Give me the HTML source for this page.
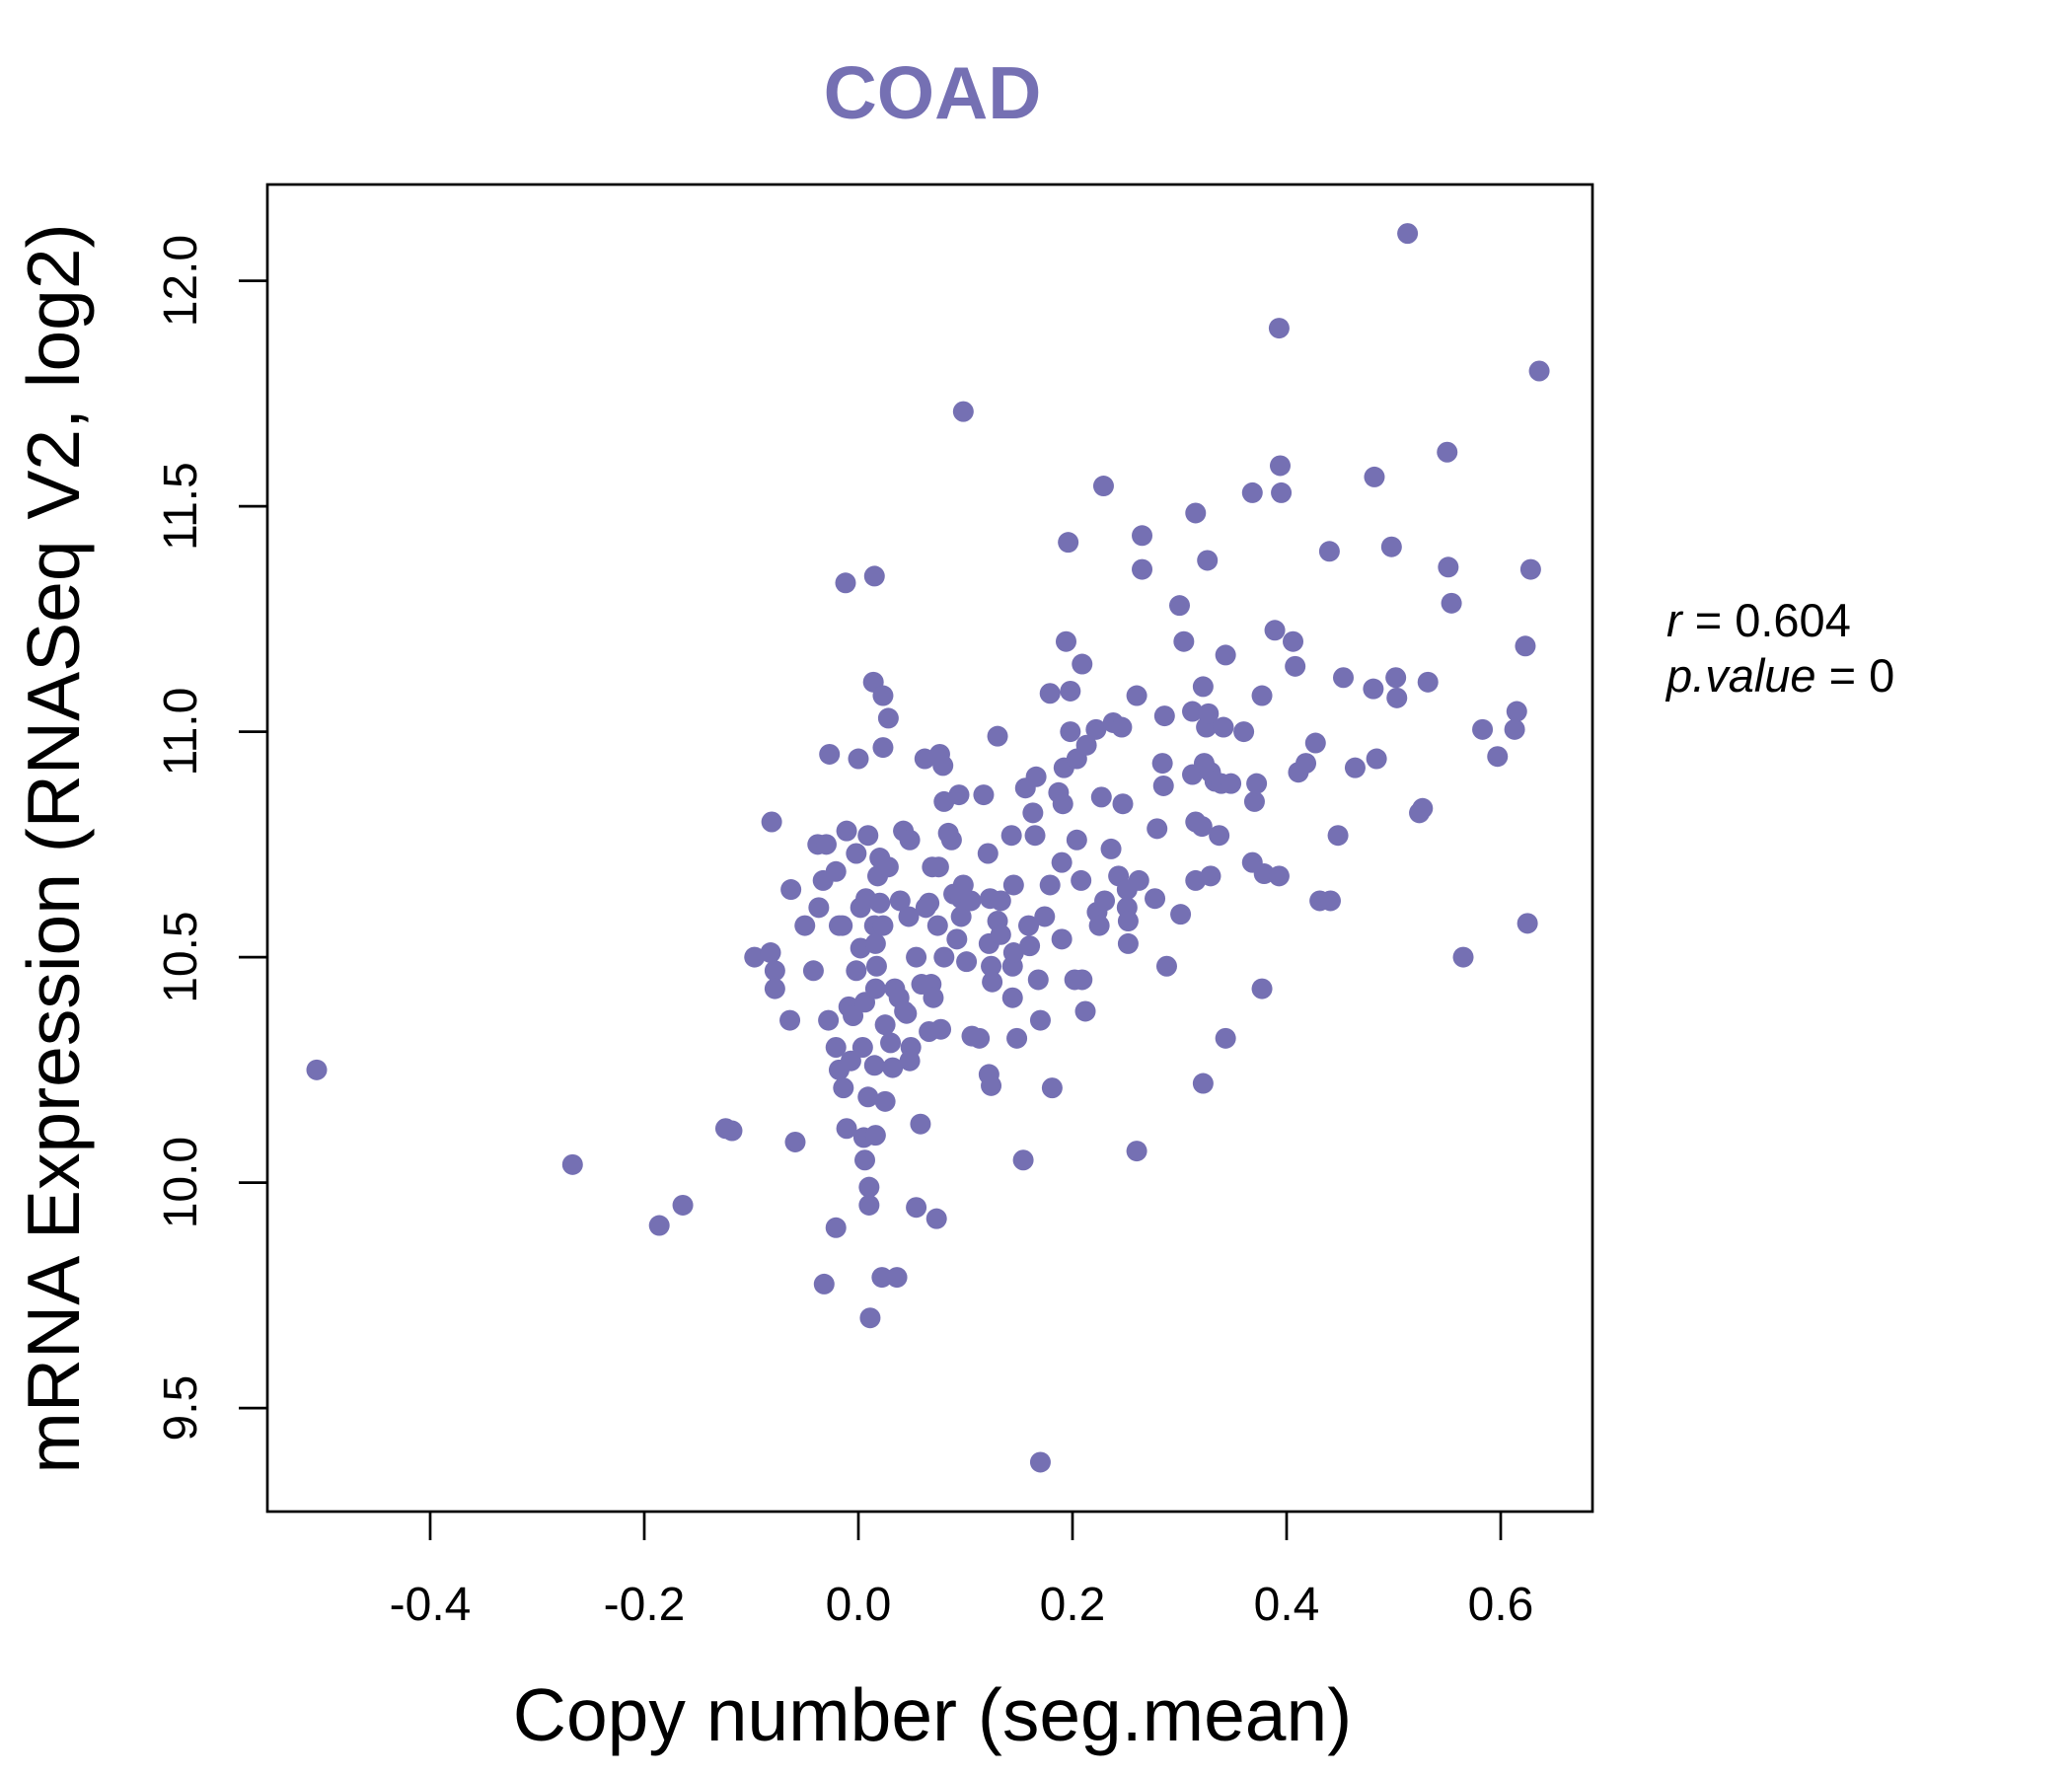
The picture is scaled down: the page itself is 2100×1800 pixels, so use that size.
<!DOCTYPE html>
<html><head><meta charset="utf-8"><style>body{margin:0;background:#fff}svg{display:block}text{font-family:"Liberation Sans",sans-serif}</style></head>
<body>
<svg id="chart" width="2100" height="1800" xmlns="http://www.w3.org/2000/svg">
<text x="945" y="120" text-anchor="middle" font-size="75" font-weight="bold" fill="#7570b3">COAD</text>
<rect x="271" y="187" width="1343" height="1345" fill="none" stroke="#000" stroke-width="2.7"/>
<g id="xaxis"></g>
<g id="yaxis"></g>
<g id="pts"></g>
<text x="945" y="1764" text-anchor="middle" font-size="75">Copy number (seg.mean)</text>
<text transform="translate(80,860) rotate(-90)" text-anchor="middle" font-size="75">mRNA Expression (RNASeq V2, log2)</text>
<text x="1689" y="645" font-size="47"><tspan font-style="italic">r</tspan> = 0.604</text>
<text x="1689" y="701" font-size="47"><tspan font-style="italic">p.value</tspan> = 0</text>
</svg>
<script>
const xTicks=[-0.4,-0.2,0.0,0.2,0.4,0.6];
const xTickLabels=["-0.4","-0.2","0.0","0.2","0.4","0.6"];
const yTicks=[9.5,10.0,10.5,11.0,11.5,12.0];
const yTickLabels=["9.5","10.0","10.5","11.0","11.5","12.0"];
const xVals=[-0.506,-0.267,-0.186,-0.164,-0.124,-0.118,-0.097,-0.081,-0.082,-0.078,-0.078,-0.064,-0.063,-0.059,-0.05,-0.042,-0.038,-0.03,-0.037,-0.033,-0.027,-0.028,-0.032,-0.021,-0.021,-0.018,-0.018,-0.015,-0.021,-0.012,-0.011,-0.014,-0.011,-0.009,-0.005,-0.007,-0.002,-0.002,0,0.002,0.007,0.002,0.004,0.006,0.005,0.006,0.009,0.009,0.01,0.01,0.011,0.014,0.015,0.015,0.016,0.015,0.018,0.016,0.016,0.017,0.02,0.02,0.023,0.023,0.023,0.022,0.025,0.025,0.028,0.028,0.03,0.032,0.034,0.036,0.038,0.039,0.042,0.043,0.045,0.048,0.047,0.049,0.048,0.054,0.054,0.058,0.059,0.062,0.063,0.066,0.068,0.066,0.069,0.07,0.073,0.074,0.075,0.076,0.077,0.079,0.08,0.08,0.084,0.087,0.089,0.092,0.094,0.098,0.096,0.096,0.098,0.101,0.105,0.106,0.113,0.117,0.121,0.123,0.122,0.122,0.124,0.124,0.125,0.13,0.13,0.133,0.133,0.143,0.145,0.144,0.145,0.144,0.148,0.154,0.156,0.159,0.16,0.163,0.166,0.165,0.168,0.17,0.17,0.174,0.179,0.181,0.179,0.187,0.19,0.191,0.192,0.19,0.194,0.196,0.198,0.198,0.204,0.204,0.202,0.208,0.209,0.209,0.212,0.213,0.222,0.223,0.225,0.227,0.23,0.229,0.236,0.238,0.246,0.243,0.247,0.251,0.251,0.252,0.252,0.26,0.26,0.262,0.265,0.265,0.277,0.279,0.284,0.285,0.286,0.288,0.3,0.301,0.304,0.312,0.312,0.315,0.315,0.315,0.321,0.322,0.322,0.323,0.325,0.326,0.327,0.329,0.329,0.333,0.337,0.339,0.341,0.343,0.343,0.348,0.36,0.368,0.368,0.37,0.372,0.377,0.377,0.379,0.389,0.393,0.393,0.394,0.395,0.406,0.408,0.411,0.418,0.427,0.431,0.44,0.441,0.448,0.453,0.464,0.481,0.484,0.482,0.498,0.502,0.503,0.513,0.524,0.527,0.532,0.55,0.551,0.554,0.565,0.583,0.597,0.613,0.615,0.623,0.625,0.628,0.636];
const yVals=[10.25,10.04,9.905,9.95,10.12,10.115,10.5,10.8,10.51,10.47,10.43,10.36,10.65,10.09,10.57,10.47,10.75,10.75,10.61,10.67,10.95,10.36,9.775,10.69,10.3,10.25,10.57,10.57,9.9,11.33,10.78,10.21,10.12,10.39,10.37,10.27,10.73,10.47,10.94,10.61,10.63,10.52,10.3,10.4,10.1,10.05,10.77,10.19,9.99,9.95,9.7,11.11,11.345,10.57,10.53,10.26,10.68,10.43,10.105,10.48,10.72,10.62,11.08,10.965,10.57,9.79,10.35,10.18,11.03,10.7,10.31,10.255,10.43,9.79,10.41,10.625,10.78,10.38,10.375,10.76,10.59,10.3,10.27,10.5,9.945,10.13,10.44,10.94,10.61,10.62,10.44,10.335,10.7,10.41,9.92,10.57,10.7,10.95,10.34,10.925,10.5,10.845,10.775,10.76,10.64,10.54,10.86,11.71,10.63,10.59,10.66,10.49,10.625,10.325,10.32,10.86,10.73,10.63,10.53,10.24,10.215,10.48,10.445,10.99,10.58,10.55,10.625,10.77,10.66,10.48,10.51,10.41,10.32,10.05,10.875,10.57,10.525,10.82,10.9,10.77,10.45,10.36,9.38,10.59,11.085,10.21,10.66,10.865,10.71,10.84,10.92,10.54,11.2,11.42,11.09,11.0,10.94,10.76,10.45,10.67,11.15,10.45,10.38,10.97,11.005,10.6,10.57,10.855,10.625,11.545,10.74,11.02,11.01,10.68,10.84,10.65,10.61,10.58,10.53,11.08,10.07,10.67,11.435,11.36,10.63,10.785,10.93,10.88,11.035,10.48,11.28,10.595,11.2,11.045,10.905,11.485,10.8,10.67,10.79,10.22,11.1,10.93,11.01,11.38,11.04,10.91,10.68,10.89,10.77,10.885,11.01,10.32,11.17,10.885,11.0,10.71,11.53,10.845,10.885,10.43,11.08,10.685,11.225,10.68,11.895,11.59,11.53,11.2,11.145,10.91,10.93,10.975,10.625,11.4,10.625,10.77,11.12,10.92,11.095,10.94,11.565,11.41,11.12,11.075,12.105,10.82,10.83,11.11,11.62,11.365,11.285,10.5,11.005,10.945,11.005,11.045,11.19,10.575,11.36,11.8];
const NS="http://www.w3.org/2000/svg";
function xs(v){return 870+v*1085;}
function ys(v){return 284.6+(12-v)*457;}
function mk(tag,attrs,parent){const e=document.createElementNS(NS,tag);for(const k in attrs)e.setAttribute(k,attrs[k]);parent.appendChild(e);return e;}
const gx=document.getElementById('xaxis'),gy=document.getElementById('yaxis'),gp=document.getElementById('pts');
xTicks.forEach((t,i)=>{
  const l=mk('line',{x1:xs(t),x2:xs(t),y1:1532,y2:1561,stroke:'#000','stroke-width':2.7},gx);
  
  
  const tx=mk('text',{x:xs(t),y:1642,'text-anchor':'middle','font-size':48},gx);
  tx.textContent=xTickLabels[i];
  
  
});
yTicks.forEach((t,i)=>{
  const l=mk('line',{x1:242,x2:271,y1:ys(t),y2:ys(t),stroke:'#000','stroke-width':2.7},gy);
  
  
  const tx=mk('text',{transform:`translate(199,${ys(t)}) rotate(-90)`,'text-anchor':'middle','font-size':48},gy);
  tx.textContent=yTickLabels[i];
  
  
});
xVals.forEach((v,i)=>{
  const c=mk('circle',{cx:xs(v),cy:ys(yVals[i]),r:10.5,fill:'#7570b3'},gp);
  
  
});
</script>
</body></html>
